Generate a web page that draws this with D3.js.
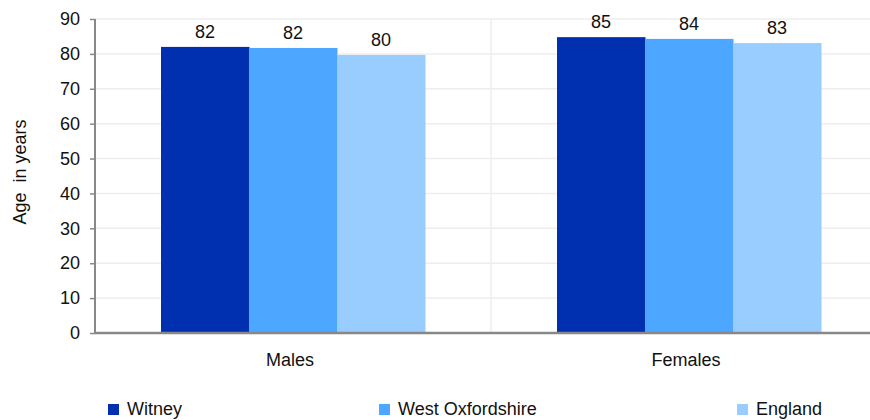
<!DOCTYPE html>
<html>
<head>
<meta charset="utf-8">
<script src="https://cdn.jsdelivr.net/npm/d3@7"></script>
<style>
  body { margin: 0; background: #fff; }
  svg { display: block; font-family: "Liberation Sans", Arial, sans-serif; }
</style>
</head>
<body>
<svg id="chart" width="870" height="420"></svg>
<script>
var categories = ['Males', 'Females']
var seriesNames = ['Witney', 'West Oxfordshire', 'England']
var witney =    [82.0, 84.8]
var westOxon =  [81.7, 84.3]
var england =   [79.7, 83.1]
var yTicks =    [0, 10, 20, 30, 40, 50, 60, 70, 80, 90]

var colors =    ['#002fb0', '#4da6ff', '#99ccff']
var legendX =   [108, 379, 737]
var fontSize =  18

var svg = d3.select('#chart')
var margin = { left: 95, top: 19, bottom: 333, right: 887 }

var x0 = d3.scaleBand().domain(categories).range([margin.left, margin.right]).padding(0)
// three 88px bars centred in each 396px category band
var x1 = d3.scaleBand().domain(seriesNames).range([66, 330]).padding(0)
var y = d3.scaleLinear().domain([0, 90]).range([margin.bottom, margin.top])

var series = [witney, westOxon, england]

// gridlines
svg.append('g').selectAll('line').data(yTicks.filter(d => d > 0)).join('line')
    .attr('x1', margin.left).attr('x2', 870)
    .attr('y1', d => y(d)).attr('y2', d => y(d))
    .attr('stroke', '#eeeeee').attr('stroke-width', 1.5)

// category separator
svg.append('line')
    .attr('x1', x0('Females')).attr('x2', x0('Females'))
    .attr('y1', y(90)).attr('y2', y(0))
    .attr('stroke', '#eeeeee').attr('stroke-width', 1.5)

// bars
var groups = svg.append('g').selectAll('g').data(categories).join('g')
    .attr('transform', d => `translate(${x0(d)},0)`)

groups.selectAll('rect')
    .data((c, ci) => seriesNames.map((s, si) => ({ s: s, v: series[si][ci], i: si })))
    .join('rect')
    .attr('x', d => x1(d.s))
    .attr('width', x1.bandwidth() + 0.5)
    .attr('y', d => y(d.v))
    .attr('height', d => y(0) - y(d.v))
    .attr('fill', d => colors[d.i])

groups.selectAll('text.val')
    .data((c, ci) => seriesNames.map((s, si) => ({ s: s, v: series[si][ci] })))
    .join('text')
    .attr('class', 'val')
    .attr('x', d => x1(d.s) + x1.bandwidth() / 2)
    .attr('y', d => y(d.v) - 9)
    .attr('text-anchor', 'middle')
    .attr('font-size', fontSize)
    .attr('fill', '#111')
    .text(d => Math.round(d.v))

// y axis
var yAxis = svg.append('g')
    .attr('transform', `translate(${margin.left},0)`)
    .call(d3.axisLeft(y).tickValues(yTicks).tickSize(5).tickPadding(10))
yAxis.select('.domain').attr('stroke', '#888').attr('stroke-width', 2)
    .attr('d', `M0,${y(90)}V${y(0)}`)
yAxis.selectAll('.tick line').attr('stroke', '#888').attr('stroke-width', 1.5)
yAxis.selectAll('.tick text').attr('font-size', fontSize).attr('fill', '#111')
    .attr('font-family', '"Liberation Sans", Arial, sans-serif')

// x baseline
svg.append('line')
    .attr('x1', margin.left - 1).attr('x2', 870)
    .attr('y1', y(0)).attr('y2', y(0))
    .attr('stroke', '#888').attr('stroke-width', 2.5)

// category labels
svg.append('g').selectAll('text').data(categories).join('text')
    .attr('x', d => x0(d) + x0.bandwidth() / 2 - 3)
    .attr('y', 366)
    .attr('text-anchor', 'middle')
    .attr('font-size', fontSize)
    .attr('fill', '#111')
    .text(d => d)

// y axis title
svg.append('text')
    .attr('transform', 'translate(26,172) rotate(-90)')
    .attr('text-anchor', 'middle')
    .attr('font-size', fontSize)
    .attr('fill', '#111')
    .style('white-space', 'pre')
    .text('Age  in years')

// legend
var legend = svg.append('g').selectAll('g').data(seriesNames).join('g')
    .attr('transform', (d, i) => `translate(${legendX[i]},404)`)
legend.append('rect').attr('width', 11).attr('height', 11)
    .attr('fill', (d, i) => colors[i])
legend.append('text').attr('x', 19).attr('y', 11)
    .attr('font-size', fontSize).attr('fill', '#111')
    .text(d => d)
</script>
</body>
</html>
